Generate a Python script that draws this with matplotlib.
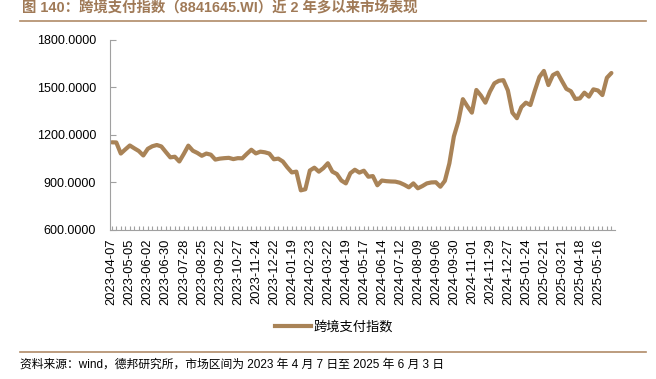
import matplotlib
matplotlib.use('Agg')
import matplotlib.pyplot as plt
from matplotlib.lines import Line2D
import numpy as np

plt.rcParams['font.family'] = ['Liberation Sans', 'Noto Sans CJK SC']

title = '图 140：跨境支付指数（8841645.WI）近 2 年多以来市场表现'
source = '资料来源：wind，德邦研究所，市场区间为 2023 年 4 月 7 日至 2025 年 6 月 3 日'
series_name = '跨境支付指数'

# weekly closes (112 points)
values = [
    1153, 1152, 1082, 1108, 1133, 1115, 1098, 1070, 1112, 1128,
    1136, 1127, 1092, 1058, 1062, 1032, 1080, 1132, 1100, 1086,
    1068, 1082, 1075, 1044, 1050, 1053, 1055, 1047, 1053, 1052,
    1080, 1106, 1083, 1094, 1090, 1082, 1046, 1050, 1032, 995,
    963, 968, 850, 857, 975, 993, 968, 990, 1021, 968,
    953, 912, 894, 958, 980, 962, 974, 936, 940, 882,
    912, 908, 906, 905, 898, 885, 869, 894, 863, 877,
    894, 900, 901, 873, 910, 1020, 1190, 1285, 1425, 1380,
    1340, 1483, 1448, 1403, 1472, 1525, 1541, 1545, 1480, 1340,
    1305, 1375, 1403, 1388, 1480, 1565, 1603, 1514, 1577, 1592,
    1540, 1490, 1475, 1426, 1430, 1466, 1441, 1487, 1480, 1451,
    1560, 1590,
]

# every 4th week gets a label
tick_labels = [
    '2023-04-07', '2023-05-05', '2023-06-02', '2023-06-30', '2023-07-28',
    '2023-08-25', '2023-09-22', '2023-10-27', '2023-11-24', '2023-12-22',
    '2024-01-19', '2024-02-23', '2024-03-22', '2024-04-19', '2024-05-17',
    '2024-06-14', '2024-07-12', '2024-08-09', '2024-09-06', '2024-09-30',
    '2024-11-01', '2024-11-29', '2024-12-27', '2025-01-24', '2025-02-21',
    '2025-03-21', '2025-04-18', '2025-05-16',
]
y_ticks = [600, 900, 1200, 1500, 1800]

line_color = '#A98357'
brown = '#A07A57'
gray = '#A0A0A0'

W, H = 656, 379
fig = plt.figure(figsize=(W / 100, H / 100), dpi=100)
ax = fig.add_axes([110 / W, 1 - 230 / H, (615 - 110) / W, (230 - 39.7) / H])

x = np.arange(len(values))
ax.plot(x, values, color=line_color, lw=3, solid_joinstyle='round', solid_capstyle='round')

ax.set_ylim(600, 1800)
ax.set_xlim(-0.4, len(values) - 0.2)
ax.set_yticks(y_ticks)
ax.set_yticklabels([f'{v:.4f}' for v in y_ticks])
ax.set_xticks(np.arange(0, len(values), 4))
ax.set_xticklabels(tick_labels, rotation=90)
ax.set_xticks(x, minor=True)

ax.tick_params(axis='y', direction='in', length=4, width=0.8, color=gray, pad=10, labelsize=9)
ax.tick_params(axis='x', which='both', direction='in', length=3, width=0.8, color=gray, pad=6, labelsize=9.3)

for s in ['top', 'right']:
    ax.spines[s].set_visible(False)
for s in ['left', 'bottom']:
    ax.spines[s].set_color(gray)
    ax.spines[s].set_linewidth(0.8)

handle = Line2D([], [], color=line_color, lw=3)
fig.legend([handle], [series_name], loc='center', bbox_to_anchor=(334 / W, 1 - 327 / H),
           frameon=False, handlelength=2.7, handletextpad=0.2,
           prop={'family': ['Noto Sans CJK SC'], 'size': 9.5})

fig.text(22 / W, 1 - 8 / H, title, color=brown, fontsize=10.4, fontweight='bold', va='center', ha='left')
fig.add_artist(Line2D([20 / W, 646 / W], [1 - 20.5 / H, 1 - 20.5 / H], color='#B08B68', lw=1.2))
fig.add_artist(Line2D([20 / W, 646 / W], [1 - 351.5 / H, 1 - 351.5 / H], color='#B08B68', lw=1.2))
fig.text(20 / W, 1 - 365 / H, source, color='black', fontsize=8.5, va='center', ha='left')

fig.savefig('out.png', dpi=100)
